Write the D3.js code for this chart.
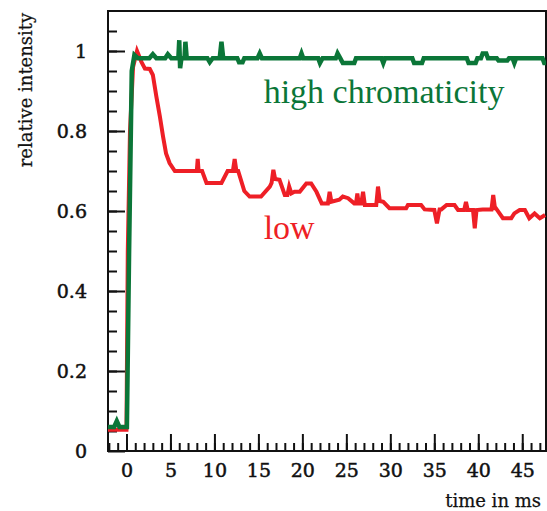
<!DOCTYPE html>
<html lang="en">
<head>
  <meta charset="UTF-8">
  <title>Relative intensity vs time</title>
  <script src="https://d3js.org/d3.v7.min.js"></script>
  <style>
    body {
      margin: 0;
      background: #fff;
    }
    svg {
      display: block;
    }
    .tick text {
      font-family: 'DejaVu Serif', serif;
      font-size: 19px;
      fill: #111;
      stroke: #111;
      stroke-width: 0.5px;
    }
    .axis-title {
      font-family: 'DejaVu Serif', serif;
      font-size: 18px;
      fill: #111;
      stroke: #111;
      stroke-width: 0.25px;
    }
    .series-label {
      font-family: 'Liberation Serif', 'Times New Roman', serif;
      font-size: 34px;
    }
  </style>
</head>
<body>
  <svg width="547" height="511"></svg>

  <script>
    // [time in ms, relative intensity]
    const highChromaticity = [
      [-2.1, 0.06], [-1.4, 0.06], [-1.1, 0.075], [-0.8, 0.06], [0.05, 0.06],
      [0.3, 0.5], [0.6, 0.95], [0.9, 0.99], [1.3, 0.982], [2.6, 0.982],
      [3.0, 0.992], [3.4, 0.982], [4.4, 0.982], [4.7, 0.992], [5.1, 0.982],
      [5.9, 0.982], [6.0, 1.027], [6.1, 0.957], [6.25, 0.982], [6.6, 0.982],
      [6.7, 1.023], [6.85, 0.982], [9.2, 0.982], [9.47, 0.972], [9.8, 0.982],
      [10.6, 0.982], [10.8, 1.023], [11.0, 0.982], [12.6, 0.982], [12.8, 0.972],
      [13.2, 0.972], [13.4, 0.982], [14.9, 0.982], [15.15, 0.994], [15.4, 0.982],
      [19.7, 0.982], [19.9, 0.994], [20.1, 0.982], [21.8, 0.982], [22.0, 0.97],
      [22.3, 0.982], [23.8, 0.982], [24.0, 0.994], [24.3, 0.982], [24.6, 0.97],
      [25.9, 0.97], [26.1, 0.982], [29.0, 0.982], [29.2, 0.97], [29.4, 0.982],
      [32.5, 0.982], [32.7, 0.97], [33.6, 0.97], [33.8, 0.982], [38.7, 0.982],
      [38.9, 0.97], [39.7, 0.97], [39.9, 0.982], [40.3, 0.982], [40.5, 0.994],
      [40.9, 0.994], [41.1, 0.982], [42.1, 0.982], [42.3, 0.976], [43.3, 0.976],
      [43.5, 0.982], [43.9, 0.982], [44.1, 0.97], [44.3, 0.982], [47.3, 0.982],
      [47.5, 0.97], [47.7, 0.97]
    ];

    const lowChromaticity = [
      [-2.1, 0.053], [0.0, 0.053], [0.15, 0.5], [0.4, 0.8], [0.75, 0.96],
      [1.2, 1.0], [1.7, 0.973], [2.1, 0.956], [2.65, 0.955], [3.0, 0.94],
      [3.4, 0.886], [3.8, 0.836], [4.16, 0.786], [4.5, 0.744], [4.9, 0.72],
      [5.5, 0.70], [8.0, 0.70], [8.1, 0.73], [8.2, 0.70], [8.6, 0.70],
      [9.1, 0.67], [10.8, 0.67], [11.5, 0.70], [12.1, 0.70], [12.3, 0.73],
      [12.5, 0.70], [12.7, 0.70], [13.4, 0.65], [14.0, 0.636], [15.3, 0.636],
      [16.3, 0.661], [16.5, 0.67], [16.7, 0.703], [16.9, 0.68], [17.4, 0.678],
      [18.0, 0.64], [18.3, 0.64], [18.5, 0.661], [18.75, 0.644], [19.1, 0.648],
      [19.7, 0.648], [20.45, 0.669], [21.0, 0.669], [21.6, 0.648], [22.2, 0.619],
      [22.9, 0.619], [23.1, 0.648], [23.3, 0.623], [24.2, 0.628], [24.6, 0.636],
      [25.2, 0.632], [25.9, 0.619], [26.1, 0.619], [26.25, 0.644], [26.4, 0.619],
      [26.7, 0.619], [26.9, 0.648], [27.1, 0.615], [28.4, 0.615], [28.6, 0.661],
      [28.8, 0.625], [29.2, 0.623], [29.9, 0.607], [31.8, 0.607], [32.0, 0.615],
      [33.5, 0.615], [33.9, 0.604], [35.0, 0.6025], [35.3, 0.569], [35.6, 0.604],
      [35.8, 0.604], [36.4, 0.615], [37.3, 0.615], [37.7, 0.6025], [38.4, 0.6025],
      [38.6, 0.623], [38.8, 0.6025], [39.4, 0.6025], [39.6, 0.557], [39.8, 0.6025],
      [40.5, 0.604], [41.5, 0.604], [41.7, 0.64], [41.9, 0.607], [42.0, 0.607],
      [42.8, 0.582], [43.75, 0.582], [44.1, 0.594], [44.7, 0.6025], [45.3, 0.6025],
      [45.8, 0.582], [46.4, 0.594], [47.0, 0.582], [47.6, 0.59]
    ];

    const xMajorTicks = [0, 5, 10, 15, 20, 25, 30, 35, 40, 45];
    const xMinorTicks = d3.range(-2, 48, 1);
    const yMajorTicks = [0, 0.2, 0.4, 0.6, 0.8, 1];
    const yMinorTicks = d3.range(0.05, 1.1, 0.05);

    const svg = d3.select("svg"),
          margin = {top: 11, right: 1, bottom: 60, left: 108},
          width = +svg.attr("width") - margin.left - margin.right,
          height = +svg.attr("height") - margin.top - margin.bottom,
          chart = svg.append("g").attr("transform", `translate(${margin.left},${margin.top})`);

    const x = d3.scaleLinear().domain([-2.1, 47.7]).range([0, width]);
    const y = d3.scaleLinear().domain([0, 1.1]).range([height, 0]);

    const green = "#0b7638";
    const red = "#ee1f26";

    // minor ticks
    chart.append("g")
      .attr("transform", `translate(0,${height})`)
      .call(d3.axisBottom(x).tickValues(xMinorTicks).tickSize(-8).tickSizeOuter(0).tickFormat(""))
      .call(g => g.select(".domain").remove());

    chart.append("g")
      .call(d3.axisLeft(y).tickValues(yMinorTicks).tickSize(-9).tickSizeOuter(0).tickFormat(""))
      .call(g => g.select(".domain").remove());

    // major ticks
    chart.append("g")
      .attr("transform", `translate(0,${height})`)
      .call(d3.axisBottom(x).tickValues(xMajorTicks).tickSize(-17).tickSizeOuter(0).tickPadding(13).tickFormat(d3.format("d")))
      .call(g => g.select(".domain").remove());

    chart.append("g")
      .call(d3.axisLeft(y).tickValues(yMajorTicks).tickSize(-17).tickSizeOuter(0).tickPadding(21).tickFormat(d => d))
      .call(g => g.select(".domain").remove());

    chart.selectAll(".tick line").attr("stroke", "#111").attr("stroke-width", 2);

    // frame
    chart.append("rect")
      .attr("x", 0)
      .attr("y", 0)
      .attr("width", width)
      .attr("height", height)
      .attr("fill", "none")
      .attr("stroke", "#111")
      .attr("stroke-width", 2);

    const line = d3.line()
      .x(d => x(d[0]))
      .y(d => y(d[1]));

    chart.append("path")
      .datum(lowChromaticity)
      .attr("fill", "none")
      .attr("stroke", red)
      .attr("stroke-width", 4)
      .attr("stroke-linejoin", "miter")
      .attr("d", line);

    chart.append("path")
      .datum(highChromaticity)
      .attr("fill", "none")
      .attr("stroke", green)
      .attr("stroke-width", 4.5)
      .attr("stroke-linejoin", "miter")
      .attr("d", line);

    chart.append("text")
      .attr("class", "series-label")
      .attr("x", x(15.6))
      .attr("y", y(0.87))
      .attr("fill", green)
      .text("high chromaticity");

    chart.append("text")
      .attr("class", "series-label")
      .attr("x", x(15.6))
      .attr("y", y(0.53))
      .attr("fill", red)
      .text("low");

    svg.append("text")
      .attr("class", "axis-title")
      .attr("x", 541)
      .attr("y", 507)
      .attr("text-anchor", "end")
      .text("time in ms");

    svg.append("text")
      .attr("class", "axis-title")
      .attr("transform", "translate(32,90) rotate(-90)")
      .attr("text-anchor", "middle")
      .text("relative intensity");
  </script>
</body>
</html>
